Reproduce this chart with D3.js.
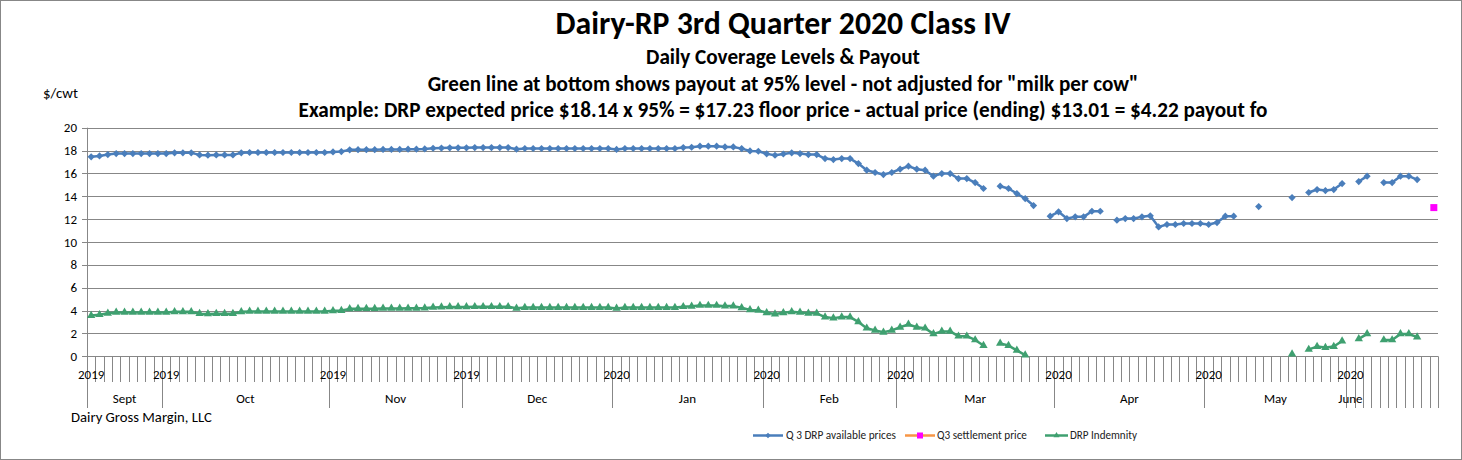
<!DOCTYPE html>
<html>
<head>
<meta charset="utf-8">
<script src="https://cdn.jsdelivr.net/npm/d3@7/dist/d3.min.js"></script>
<style>
  html, body { margin: 0; padding: 0; background: #fff; }
  svg { display: block; font-family: Carlito, Calibri, Lato, "Open Sans", sans-serif; }
</style>
</head>
<body>
<svg id="chart" width="1462" height="460"></svg>
<script>
// ---- data ----
// outer category level: month groups, with their day counts; the tail after June is blank single-day groups
var monthNames = ["Sept", "Oct", "Nov", "Dec", "Jan", "Feb", "Mar", "Apr", "May", "June", "", "", "", "", "", "", "", "", "", ""];
var monthDays  = [9, 20, 16, 18, 18, 16, 19, 18, 17, 1, 1, 1, 1, 1, 1, 1, 1, 1, 1, 1];
// inner level: only the first day of each month carries a label (the year)
var yearLabels = ["2019", "2019", "2019", "2019", "2020", "2020", "2020", "2020", "2020", "2020"];

// Q 3 DRP available prices, one per trading day ($/cwt); null = no quote
var drpPrices = [
  17.45, 17.53, 17.65, 17.74, 17.74, 17.74, 17.74, 17.74, 17.74, 17.74,
  17.80, 17.80, 17.80, 17.62, 17.60, 17.62, 17.62, 17.62, 17.80, 17.83,
  17.83, 17.83, 17.83, 17.83, 17.83, 17.83, 17.83, 17.83, 17.83, 17.88,
  17.91, 18.06, 18.08, 18.08, 18.08, 18.10, 18.10, 18.10, 18.12, 18.12,
  18.14, 18.20, 18.22, 18.24, 18.24, 18.24, 18.26, 18.26, 18.26, 18.26,
  18.26, 18.12, 18.18, 18.18, 18.18, 18.18, 18.18, 18.18, 18.18, 18.18,
  18.18, 18.18, 18.18, 18.10, 18.18, 18.18, 18.18, 18.18, 18.18, 18.18,
  18.18, 18.26, 18.29, 18.38, 18.38, 18.38, 18.32, 18.32, 18.17, 17.97,
  17.94, 17.71, 17.59, 17.70, 17.80, 17.74, 17.65, 17.65, 17.30, 17.21,
  17.30, 17.30, 16.86, 16.28, 16.08, 15.90, 16.08, 16.37, 16.63, 16.37,
  16.28, 15.76, 15.99, 15.99, 15.55, 15.55, 15.20, 14.68, null, 14.88,
  14.68, 14.24, 13.80, 13.19, null, 12.26, 12.64, 12.05, 12.20, 12.20,
  12.69, 12.69, null, 11.91, 12.05, 12.05, 12.20, 12.29, 11.32, 11.53,
  11.53, 11.62, 11.62, 11.62, 11.53, 11.70, 12.26, 12.26, null, null,
  13.10, null, null, null, 13.89, null, 14.33, 14.59, 14.50, 14.59,
  15.11, null, 15.29, 15.76, null, 15.20, 15.20, 15.76, 15.76, 15.46,
  null, null
];

// DRP Indemnity at the 95% level ($/cwt); null where there is no payout
var indemnity = [
  3.57, 3.64, 3.76, 3.84, 3.84, 3.84, 3.84, 3.84, 3.84, 3.84,
  3.90, 3.90, 3.90, 3.73, 3.71, 3.73, 3.73, 3.73, 3.90, 3.93,
  3.93, 3.93, 3.93, 3.93, 3.93, 3.93, 3.93, 3.93, 3.93, 3.98,
  4.00, 4.15, 4.17, 4.17, 4.17, 4.19, 4.19, 4.19, 4.20, 4.20,
  4.22, 4.28, 4.30, 4.32, 4.32, 4.32, 4.34, 4.34, 4.34, 4.34,
  4.34, 4.20, 4.26, 4.26, 4.26, 4.26, 4.26, 4.26, 4.26, 4.26,
  4.26, 4.26, 4.26, 4.19, 4.26, 4.26, 4.26, 4.26, 4.26, 4.26,
  4.26, 4.34, 4.37, 4.45, 4.45, 4.45, 4.39, 4.39, 4.25, 4.06,
  4.03, 3.81, 3.70, 3.81, 3.90, 3.84, 3.76, 3.76, 3.43, 3.34,
  3.43, 3.43, 3.01, 2.46, 2.27, 2.10, 2.27, 2.54, 2.79, 2.54,
  2.46, 1.96, 2.18, 2.18, 1.76, 1.76, 1.43, 0.94, null, 1.13,
  0.94, 0.52, 0.10, null, null, null, null, null, null, null,
  null, null, null, null, null, null, null, null, null, null,
  null, null, null, null, null, null, null, null, null, null,
  null, null, null, null, 0.19, null, 0.60, 0.85, 0.77, 0.85,
  1.34, null, 1.52, 1.96, null, 1.43, 1.43, 1.96, 1.96, 1.68,
  null, null
];

// Q3 settlement price: [day index, value]
var settlement = [[161, 13.01]];

var yTicks = [0, 2, 4, 6, 8, 10, 12, 14, 16, 18, 20];

var titleLines = [
  "Dairy-RP 3rd Quarter 2020 Class IV",
  "Daily Coverage Levels & Payout",
  "Green line at bottom shows payout at 95% level - not adjusted  for \"milk per cow\"",
  "Example: DRP expected price $18.14 x 95% = $17.23 floor price - actual price (ending) $13.01 = $4.22 payout fo"
];
var legendNames = ["Q 3 DRP available prices", "Q3 settlement price", "DRP Indemnity"];

// ---- layout ----
var BLUE = "#4a7ebb", GREEN = "#3fa070", ORANGE = "#f79646", MAGENTA = "#ff00ff", GRID = "#878787";
var L = 87, R = 1438, TOP = 127.7, BOT = 356.3;

var svg = d3.select("#chart");
svg.append("rect").attr("x", 0.5).attr("y", 0.5).attr("width", 1461).attr("height", 459)
  .attr("fill", "#fff").attr("stroke", GRID);

var nDays = drpPrices.length;
var x = d3.scaleBand().domain(d3.range(nDays)).range([L, R]).padding(0);
var y = d3.scaleLinear().domain([0, 20]).range([BOT, TOP]);
var cx = function (i) { return x(i) + x.bandwidth() / 2; };

// ---- titles ----
function fit(t, w) {
  var fs = parseFloat(t.attr("font-size"));
  var cur = t.node().getComputedTextLength();
  if (cur > 0) t.attr("font-size", (fs * w / cur).toFixed(2));
}
var titleSpec = [[27, 34, 455], [17, 64, 274], [17, 91, 711], [17, 117, 969]];
titleLines.forEach(function (s, k) {
  var t = svg.append("text").attr("x", 783).attr("y", titleSpec[k][1]).attr("text-anchor", "middle")
    .attr("font-weight", "bold").attr("font-size", titleSpec[k][0]).attr("fill", "#000").text(s);
  fit(t, titleSpec[k][2]);
});

fit(svg.append("text").attr("x", 43).attr("y", 98).attr("font-size", 14).attr("fill", "#000").text("$/cwt"), 35);
fit(svg.append("text").attr("x", 71).attr("y", 422).attr("font-size", 14).attr("fill", "#000").text("Dairy Gross Margin, LLC"), 141);

// ---- y axis + grid ----
var g = svg.append("g");
g.selectAll("line.grid").data(yTicks).enter().append("line").attr("class", "grid")
  .attr("x1", L - 5).attr("x2", R).attr("y1", function (d) { return Math.round(y(d)) + 0.5; })
  .attr("y2", function (d) { return Math.round(y(d)) + 0.5; }).attr("stroke", GRID).attr("stroke-width", 1);
g.append("line").attr("x1", L + 0.5).attr("x2", L + 0.5).attr("y1", y(20)).attr("y2", y(0))
  .attr("stroke", GRID);
g.selectAll("text.yt").data(yTicks).enter().append("text").attr("class", "yt")
  .attr("x", 77).attr("y", function (d) { return y(d) + 4.5; }).attr("text-anchor", "end")
  .attr("font-size", 13).attr("fill", "#000").text(function (d) { return d; });

// ---- category axis (two levels) ----
var starts = [0];
monthDays.forEach(function (d, k) { starts.push(starts[k] + d); });
var isGroupEdge = {};
starts.forEach(function (s) { isGroupEdge[s] = true; });
var ax = svg.append("g");
ax.selectAll("line.ct").data(d3.range(nDays + 1)).enter().append("line").attr("class", "ct")
  .attr("x1", function (i) { return Math.round(L + i * x.step()) + 0.5; })
  .attr("x2", function (i) { return Math.round(L + i * x.step()) + 0.5; })
  .attr("y1", BOT).attr("y2", function (i) { return isGroupEdge[i] ? 408 : 382; })
  .attr("stroke", GRID);
ax.selectAll("text.yr").data(yearLabels).enter().append("text").attr("class", "yr")
  .attr("x", function (d, k) { return cx(starts[k]); }).attr("y", 379).attr("text-anchor", "middle")
  .attr("font-size", 13).attr("fill", "#000").text(function (d) { return d; });
ax.selectAll("text.mo").data(monthNames).enter().append("text").attr("class", "mo")
  .attr("x", function (d, k) { return (x(starts[k]) + L + starts[k + 1] * x.step()) / 2; })
  .attr("y", 403).attr("text-anchor", "middle").attr("font-size", 13).attr("fill", "#000")
  .text(function (d) { return d; });

// ---- series ----
function diamond(r) { return "M0," + (-r) + "L" + r + ",0L0," + r + "L" + (-r) + ",0Z"; }
var tri = d3.symbol().type(d3.symbolTriangle).size(30)();

var lineGen = d3.line().defined(function (d) { return d != null; })
  .x(function (d, i) { return cx(i); }).y(function (d) { return y(d); });

function series(vals, color, shape) {
  var s = svg.append("g");
  s.append("path").attr("d", lineGen(vals)).attr("fill", "none").attr("stroke", color)
    .attr("stroke-width", 2.5).attr("stroke-linejoin", "round");
  var pts = vals.map(function (v, i) { return [i, v]; }).filter(function (p) { return p[1] != null; });
  s.selectAll("path.m").data(pts).enter().append("path").attr("class", "m").attr("d", shape)
    .attr("transform", function (p) { return "translate(" + cx(p[0]) + "," + y(p[1]) + ")"; })
    .attr("fill", color);
}
series(drpPrices, BLUE, diamond(3.6));
series(indemnity, GREEN, tri);

svg.selectAll("rect.settle").data(settlement).enter().append("rect").attr("class", "settle")
  .attr("x", function (p) { return cx(p[0]) - 3.5; }).attr("y", function (p) { return y(p[1]) - 3.5; })
  .attr("width", 7).attr("height", 7).attr("fill", MAGENTA);

// ---- legend ----
var legendSpec = [
  { x0: 753, x1: 783, tx: 786, w: 110, color: BLUE, mark: "d" },
  { x0: 905, x1: 935, tx: 937, w: 90, color: ORANGE, mark: "s" },
  { x0: 1045, x1: 1068, tx: 1070, w: 67, color: GREEN, mark: "t" }
];
var lg = svg.append("g");
legendSpec.forEach(function (it, k) {
  var ly = 435.5, mx = (it.x0 + it.x1) / 2;
  lg.append("line").attr("x1", it.x0).attr("x2", it.x1).attr("y1", ly).attr("y2", ly)
    .attr("stroke", it.color).attr("stroke-width", 2.5);
  if (it.mark === "d") lg.append("path").attr("d", diamond(2.8)).attr("transform", "translate(" + mx + "," + ly + ")").attr("fill", BLUE);
  if (it.mark === "s") lg.append("rect").attr("x", mx - 3).attr("y", ly - 3).attr("width", 6).attr("height", 6).attr("fill", MAGENTA);
  if (it.mark === "t") lg.append("path").attr("d", d3.symbol().type(d3.symbolTriangle).size(16)()).attr("transform", "translate(" + mx + "," + ly + ")").attr("fill", GREEN);
  fit(lg.append("text").attr("x", it.tx).attr("y", 439).attr("font-size", 10.5).attr("fill", "#222").text(legendNames[k]), it.w);
});
</script>
</body>
</html>
